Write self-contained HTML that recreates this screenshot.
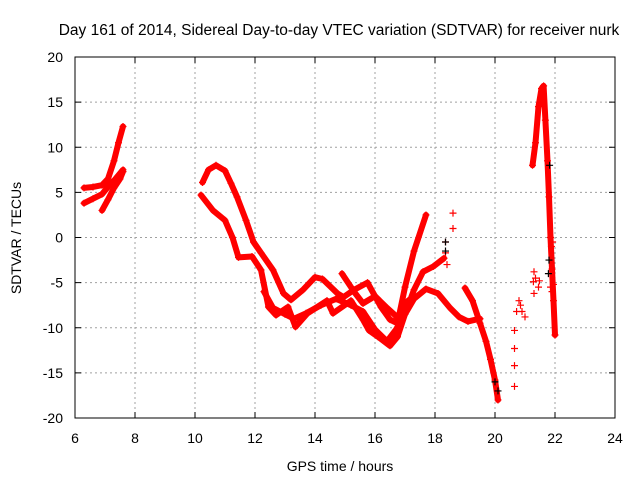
<!DOCTYPE html>
<html><head><meta charset="utf-8"><style>
html,body{margin:0;padding:0;background:#fff}
svg{display:block;font-family:"Liberation Sans",sans-serif}
</style></head><body>
<svg id="chart" width="640" height="480">
<text x="339" y="35" font-size="15.5" text-anchor="middle">Day 161 of 2014, Sidereal Day-to-day VTEC variation (SDTVAR) for receiver nurk</text>
<text x="340" y="471" font-size="14" text-anchor="middle">GPS time / hours</text>
<text x="0" y="0" font-size="14" text-anchor="middle" transform="translate(21,238) rotate(-90)">SDTVAR / TECUs</text>
<g id="grid"></g><g id="marks"></g>
<rect x="75" y="57" width="540" height="361" fill="none" stroke="#000" stroke-width="1"/>
<g id="axes"></g>
</svg>
<script>
const xTicks=[6,8,10,12,14,16,18,20,22,24];
const yTicks=[20,15,10,5,0,-5,-10,-15,-20];
// traces: hours and TECU values
const t1x=[6.3,6.6,6.9,7.1,7.3,7.45,7.6];const t1y=[5.5,5.6,5.8,6.5,8.5,10.5,12.3];
const t2x=[6.3,6.6,6.9,7.1,7.3,7.6];const t2y=[3.8,4.3,4.8,5.6,6.3,7.5];
const t3x=[6.9,7.1,7.3,7.5,7.6];const t3y=[3.0,4.2,5.5,6.5,7.3];
const t4x=[10.25,10.45,10.7,11.0,11.2,11.4,11.7,11.95,12.2,12.6,12.95,13.2,13.6,14.0,14.25,14.75,14.95,15.3,15.75,16.2,16.5,16.75,17.0,17.3,17.7];
const t4y=[6.1,7.5,8.0,7.4,6.0,4.5,1.9,-0.5,-1.7,-3.6,-6.2,-6.9,-5.8,-4.4,-4.6,-6.2,-6.6,-5.8,-5.0,-7.7,-9.1,-9.5,-5.5,-1.5,2.5];
const t5x=[10.2,10.6,11.0,11.25,11.45,11.9,12.2,12.45,12.7,13.1,13.35,13.75,14.4,14.6,15.2,15.6,15.8,16.1,16.5,16.75,17.0,17.3,17.6,17.95,18.3];
const t5y=[4.7,3.0,1.9,0.0,-2.2,-2.1,-3.6,-7.7,-8.6,-7.7,-9.9,-8.4,-7.0,-8.4,-7.0,-9.1,-10.3,-11.0,-12.0,-11.0,-8.5,-5.8,-3.8,-3.2,-2.3];
const t6x=[12.3,12.6,13.0,13.3,13.7,14.2,14.7,15.2,15.6,16.0,16.4,16.7,17.0,17.3,17.7,18.1,18.5,18.8,19.1,19.5];
const t6y=[-6.0,-7.8,-8.5,-9.0,-8.4,-7.5,-6.8,-7.5,-8.2,-10.2,-11.5,-10.2,-8.5,-6.8,-5.7,-6.2,-7.8,-8.8,-9.3,-9.0];
const t7x=[14.9,15.3,15.6,16.0,16.4,16.8,17.1];const t7y=[-4.0,-6.0,-7.3,-6.5,-7.8,-9.0,-7.0];
const t8x=[19.0,19.25,19.5,19.7,19.85,20.0,20.1];const t8y=[-5.6,-7.0,-9.5,-11.5,-13.5,-15.8,-18.0];
const t9x=[21.25,21.35,21.45,21.55,21.62,21.68,21.75,21.8,21.85,21.9,21.95,22.0];
const t9y=[8.0,10.5,14.5,16.5,16.8,13.0,8.5,4.5,0.0,-3.5,-7.0,-10.8];
const sx=[18.35,18.35,18.4,18.6,18.6,20.65,20.65,20.65,20.65,20.72,20.8,20.85,20.9,21.0,21.28,21.3,21.45,21.48,21.88,21.92,21.85,21.9,21.95,21.3,21.35];
const sy=[-0.5,-1.7,-3.0,1.0,2.7,-10.3,-12.3,-14.2,-16.5,-8.2,-7.0,-7.5,-8.2,-8.8,-4.9,-6.2,-5.5,-4.8,-1.0,-0.5,-5.5,-6.0,-5.2,-3.8,-4.5];
const bx=[18.35,18.35,21.78,21.8,21.82,20.0,20.1];
const by=[-0.5,-1.5,-4.0,-2.5,8.0,-16.0,-17.0];
const traceXs=[t1x,t2x,t3x,t4x,t5x,t6x,t7x,t8x,t9x];
const traceYs=[t1y,t2y,t3y,t4y,t5y,t6y,t7y,t8y,t9y];
const NS='http://www.w3.org/2000/svg';
function X(h){return 75+(h-6)*30;}
function Y(v){return 237.5-v*9.025;}
function mk(tag,attrs,parent){const e=document.createElementNS(NS,tag);for(const k in attrs)e.setAttribute(k,attrs[k]);parent.appendChild(e);return e;}
const grid=document.getElementById('grid'),axes=document.getElementById('axes'),marks=document.getElementById('marks');
xTicks.forEach(t=>{const x=X(t);
 if(t>6&&t<24){const g=mk('line',{x1:x,x2:x,y1:57,y2:418,stroke:'#a0a0a0','stroke-dasharray':'2,3'},grid);
 
 }
 mk('line',{x1:x,x2:x,y1:418,y2:412,stroke:'#000'},axes);
 mk('line',{x1:x,x2:x,y1:57,y2:63,stroke:'#000'},axes);
 const l=mk('text',{x:x,y:443,'font-size':14,'text-anchor':'middle'},axes);l.textContent=t;
 
 });
yTicks.forEach(t=>{const y=Y(t);
 if(t>-20&&t<20){const g=mk('line',{x1:75,x2:615,y1:y,y2:y,stroke:'#a0a0a0','stroke-dasharray':'2,3'},grid);
 
 }
 mk('line',{x1:75,x2:81,y1:y,y2:y,stroke:'#000'},axes);
 mk('line',{x1:615,x2:609,y1:y,y2:y,stroke:'#000'},axes);
 const l=mk('text',{x:63,y:y+5,'font-size':14,'text-anchor':'end'},axes);l.textContent=t;
 
 });
function plus(h,v,col){const x=X(h),y=Y(v);
 const p=mk('path',{d:`M${x-3.5} ${y}H${x+3.5}M${x} ${y-3.5}V${y+3.5}`,stroke:col,'stroke-width':1.2,fill:'none'},marks);
 
 }
traceXs.forEach((xs,i)=>{const ys=traceYs[i];
 const pts=xs.map((h,j)=>X(h)+','+Y(ys[j])).join(' ');
 const pl=mk('polyline',{points:pts,fill:'none',stroke:'#ff0000','stroke-width':6,'stroke-linejoin':'round','stroke-linecap':'round'},marks);
 
 
 xs.forEach((h,j)=>plus(h,ys[j],'#ff0000'));});
sx.forEach((h,j)=>plus(h,sy[j],'#ff0000'));
bx.forEach((h,j)=>plus(h,by[j],'#000000'));
</script>
</body></html>
